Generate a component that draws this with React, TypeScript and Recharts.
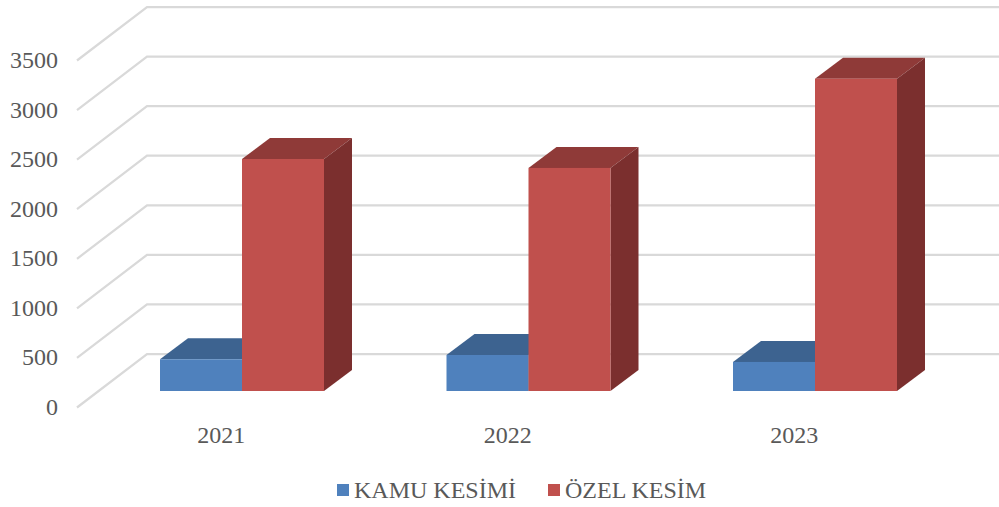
import { Bar, BarChart, CartesianGrid, Legend, XAxis, YAxis } from "recharts";

const years = ["2021", "2022", "2023"];
const kamuKesimi = [320, 363, 293];
const ozelKesim = [2340, 2250, 3150];
const yTicks = [0, 500, 1000, 1500, 2000, 2500, 3000, 3500];

const rows = years.map((year, i) => ({
  year,
  kamu: kamuKesimi[i],
  ozel: ozelKesim[i],
}));

const FONT = '"Liberation Serif", "Times New Roman", serif';
const TEXT = "#595959";
const GRID = "#d9d9d9";

// offsets of the fake 3D depth
const BAR_DX = 28;
const BAR_DY = 21;

const faces: Record<string, { top: string; side: string }> = {
  "#4f81bd": { top: "#3d6390", side: "#345578" },
  "#c0504d": { top: "#8f3a38", side: "#7b2f2e" },
};

function Bar3D({ x, y, width, height, fill }: any) {
  const right = x + width;
  const bottom = y + height;
  const face = faces[fill];
  return (
    <g>
      <polygon
        fill={face.top}
        points={`${x},${y} ${x + BAR_DX},${y - BAR_DY} ${right + BAR_DX},${y - BAR_DY} ${right},${y}`}
      />
      <polygon
        fill={face.side}
        points={`${right},${y} ${right + BAR_DX},${y - BAR_DY} ${right + BAR_DX},${bottom - BAR_DY} ${right},${bottom}`}
      />
      <rect fill={fill} height={height} width={width} x={x} y={y} />
    </g>
  );
}

// one grid line = floor/side diagonal plus the line along the back wall
function WallLine({ y1, index }: any) {
  return (
    <polyline
      fill="none"
      key={index}
      points={`77,${y1 + 16.5} 147,${y1 - 37} 999,${y1 - 37}`}
      stroke={GRID}
      strokeWidth={2.25}
    />
  );
}

function ValueTick({ y, payload }: any) {
  return (
    <text
      dominantBaseline="central"
      fill={TEXT}
      fontFamily={FONT}
      fontSize={24}
      textAnchor="end"
      x={58}
      y={y + 16}
    >
      {payload.value}
    </text>
  );
}

function YearTick({ x, payload }: any) {
  return (
    <text
      dominantBaseline="central"
      fill={TEXT}
      fontFamily={FONT}
      fontSize={24}
      textAnchor="middle"
      x={x - 21}
      y={435}
    >
      {payload.value}
    </text>
  );
}

function LegendRow({ payload }: any) {
  return (
    <div
      style={{
        alignItems: "center",
        color: TEXT,
        display: "flex",
        fontFamily: FONT,
        fontSize: 24,
        height: 26,
        paddingLeft: 337,
      }}
    >
      {payload.map((item: any) => (
        <div
          key={item.value}
          style={{ alignItems: "center", display: "flex", marginRight: 32 }}
        >
          <span
            style={{
              backgroundColor: item.color,
              display: "inline-block",
              height: 12,
              marginRight: 5,
              width: 12,
            }}
          />
          {item.value}
        </div>
      ))}
    </div>
  );
}

export default function App() {
  return (
    <div
      style={{
        background: "#fff",
        height: 507,
        left: 0,
        position: "absolute",
        top: 0,
        width: 999,
      }}
    >
      <BarChart
        barGap={0}
        barSize={82}
        data={rows}
        height={507}
        margin={{ top: 44, right: 40.5, bottom: 60, left: 0 }}
        width={999}
      >
        <CartesianGrid horizontal={(props: any) => <WallLine {...props} />} vertical={false} />
        <YAxis
          axisLine={false}
          domain={[0, 3500]}
          interval={0}
          tick={<ValueTick />}
          tickLine={false}
          ticks={yTicks}
          width={99}
        />
        <XAxis
          axisLine={false}
          dataKey="year"
          height={30}
          interval={0}
          tick={<YearTick />}
          tickLine={false}
        />
        <Legend
          content={<LegendRow />}
          height={26}
          wrapperStyle={{ bottom: 4, left: 0, width: 999 }}
        />
        <Bar
          dataKey="kamu"
          fill="#4f81bd"
          isAnimationActive={false}
          name="KAMU KESİMİ"
          shape={<Bar3D />}
        />
        <Bar
          dataKey="ozel"
          fill="#c0504d"
          isAnimationActive={false}
          name="ÖZEL KESİM"
          shape={<Bar3D />}
        />
      </BarChart>
    </div>
  );
}
